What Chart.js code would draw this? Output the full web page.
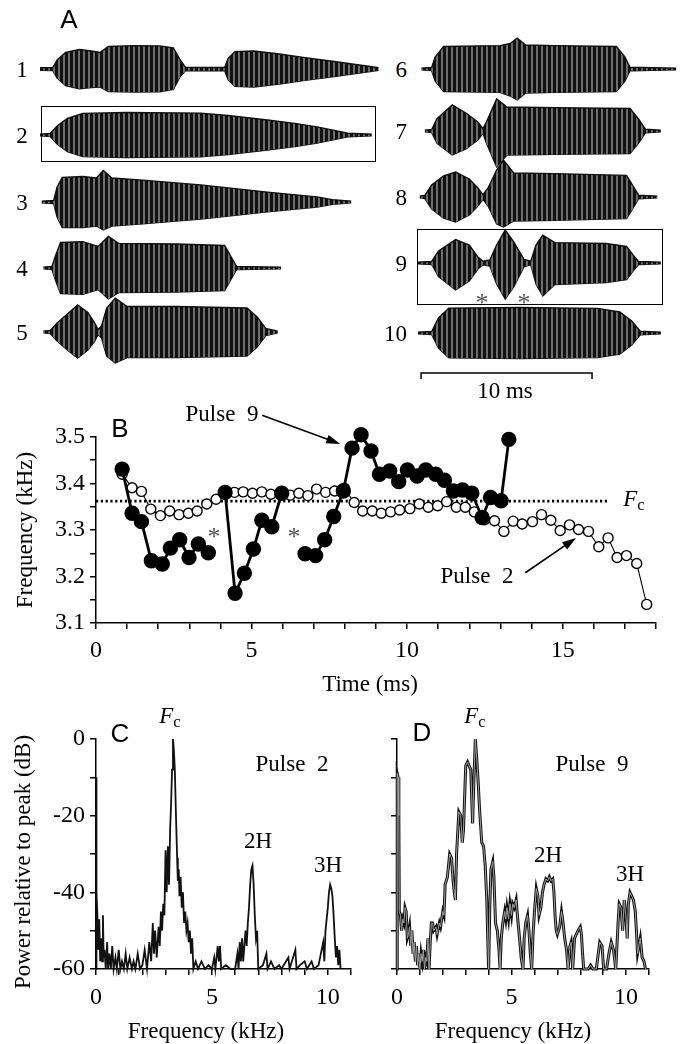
<!DOCTYPE html>
<html>
<head>
<meta charset="utf-8">
<script src="https://cdn.jsdelivr.net/npm/chart.js@4.4.0/dist/chart.umd.min.js"></script>
<style>
  body { margin: 0; background: #fff; }
  #fig { position: relative; width: 684px; height: 1044px; overflow: hidden; font-family: 'Liberation Serif', serif; color: #000; }
  canvas { position: absolute; }
  .t { position: absolute; transform: translate(-50%, -50%); white-space: nowrap; font-size: 23px; line-height: 1; }
  .r { transform: translate(-100%, -50%); }
  .p { font-family: 'Liberation Sans', Arial, sans-serif; font-size: 26px; }
  .s { font-size: 26px; color: #555; }
  .v { transform: translate(-50%, -50%) rotate(-90deg); }
  .t sub { font-size: 0.72em; vertical-align: -0.28em; line-height: 0; }
  .box { position: absolute; border: 1.5px solid #000; box-sizing: border-box; }
</style>
</head>
<body>
<div id="fig"></div>
<script>
// ---- A: pulse envelopes, [time (ms), upper, lower] ----
const pulse1 = [[0,0.04,0.04],[0.75,0.05,0.05],[1.0,0.3,0.3],[1.5,0.55,0.55],[2.3,0.65,0.66],[3.0,0.6,0.62],[3.5,0.55,0.6],[4.0,0.75,0.75],[5.5,0.78,0.77],[7.0,0.77,0.76],[7.8,0.7,0.68],[8.2,0.3,0.25],[8.5,0.06,0.06],[10.8,0.05,0.05],[11.0,0.35,0.35],[11.4,0.58,0.58],[12.5,0.6,0.6],[14.0,0.5,0.5],[15.5,0.38,0.38],[17.1,0.26,0.26],[19.1,0.1,0.1],[19.8,0.04,0.04]];
const pulse2 = [[0,0.03,0.03],[0.6,0.05,0.05],[1.0,0.3,0.3],[1.6,0.55,0.55],[2.5,0.72,0.72],[5.0,0.75,0.75],[9.4,0.73,0.73],[11.0,0.65,0.65],[13.3,0.5,0.5],[15.0,0.38,0.38],[16.2,0.27,0.27],[17.5,0.12,0.12],[18.0,0.06,0.06],[19.4,0.03,0.03]];
const pulse3 = [[0.1,0.03,0.03],[0.8,0.05,0.05],[1.0,0.5,0.5],[1.3,0.82,0.85],[2.5,0.85,0.85],[3.3,0.8,0.8],[3.7,1.05,0.93],[4.2,0.8,0.8],[6.0,0.73,0.73],[9.4,0.57,0.57],[13.3,0.33,0.33],[16.2,0.17,0.17],[17.1,0.08,0.08],[18.2,0.03,0.03]];
const pulse4 = [[0.2,0.03,0.03],[0.7,0.05,0.05],[0.9,0.4,0.4],[1.2,0.85,0.85],[2.5,0.88,0.88],[3.4,0.72,0.72],[4.0,1.05,1.03],[4.6,0.82,0.82],[8.0,0.8,0.8],[10.8,0.75,0.75],[11.2,0.35,0.35],[11.5,0.05,0.05],[14.1,0.03,0.03]];
const pulse5 = [[0.2,0.03,0.03],[0.6,0.05,0.05],[1.0,0.3,0.3],[1.6,0.6,0.6],[2.2,0.9,0.87],[2.8,0.65,0.6],[3.2,0.3,0.3],[3.4,0.08,0.08],[3.6,0.2,0.2],[3.9,0.8,0.8],[4.4,1.13,1.03],[5.1,0.85,0.85],[8.0,0.85,0.85],[12.1,0.8,0.8],[12.7,0.5,0.5],[13.2,0.12,0.12],[13.9,0.03,0.03]];
const pulse6 = [[0.2,0.03,0.03],[0.8,0.05,0.05],[1.0,0.4,0.4],[1.5,0.75,0.75],[4.8,0.78,0.78],[5.4,0.85,0.9],[5.8,1.03,1.03],[6.3,0.8,0.8],[8.0,0.78,0.78],[11.6,0.75,0.75],[12.1,0.4,0.4],[12.4,0.06,0.06],[15.1,0.03,0.03]];
const pulse7 = [[0.4,0.03,0.03],[0.8,0.05,0.05],[1.1,0.4,0.4],[2.0,0.87,0.8],[2.8,0.6,0.6],[3.5,0.3,0.3],[3.8,0.08,0.08],[4.0,0.3,0.4],[4.6,1.07,1.2],[5.2,0.8,0.8],[8.0,0.78,0.78],[12.4,0.75,0.75],[12.9,0.4,0.4],[13.3,0.06,0.06],[14.2,0.03,0.03]];
const pulse8 = [[0.1,0.03,0.03],[0.4,0.05,0.05],[0.8,0.4,0.4],[1.5,0.7,0.7],[2.2,0.83,0.83],[3.0,0.6,0.6],[3.5,0.3,0.3],[3.8,0.08,0.08],[4.1,0.3,0.3],[4.6,0.9,0.9],[5.0,1.23,1.0],[5.6,0.8,0.8],[8.0,0.78,0.78],[12.2,0.72,0.72],[12.6,0.35,0.35],[12.9,0.06,0.06],[14.0,0.03,0.03]];
const pulse9 = [[0,0.03,0.03],[0.8,0.05,0.05],[1.2,0.4,0.45],[2.2,0.78,0.9],[3.0,0.6,0.6],[3.5,0.2,0.2],[3.8,0.06,0.06],[4.2,0.1,0.1],[4.6,0.6,0.7],[5.1,1.1,1.2],[5.6,0.7,0.8],[6.2,0.12,0.12],[6.6,0.06,0.06],[6.9,0.6,0.7],[7.3,0.93,1.1],[8.0,0.68,0.72],[11.0,0.65,0.65],[12.2,0.55,0.55],[12.6,0.25,0.25],[12.9,0.05,0.05],[14.2,0.03,0.03]];
const pulse10 = [[0,0.03,0.03],[0.8,0.05,0.05],[1.2,0.5,0.5],[1.8,0.83,0.83],[6.0,0.85,0.85],[10.5,0.82,0.82],[11.8,0.7,0.7],[12.5,0.4,0.4],[13.0,0.06,0.06],[14.2,0.03,0.03]];
const scaleBarMs = [0.18, 10.18];

// ---- B: instantaneous frequency (ms, kHz); null = dropped cycle (asterisks) ----
const pulse9Time = [0.84,1.16,1.46,1.78,2.13,2.39,2.69,2.99,3.29,3.61,3.88,4.15,4.47,4.77,5.06,5.33,5.65,5.97,6.35,6.72,7.06,7.35,7.64,7.95,8.23,8.52,8.84,9.11,9.44,9.73,10.01,10.32,10.6,10.92,11.2,11.49,11.78,12.08,12.41,12.68,13.02,13.27];
const pulse9Freq = [3.431,3.336,3.318,3.234,3.227,3.261,3.279,3.241,3.270,3.251,null,3.381,3.164,3.207,3.259,3.321,3.307,3.379,null,3.249,3.245,3.279,3.329,3.384,3.476,3.505,3.47,3.42,3.427,3.404,3.429,3.416,3.429,3.42,3.407,3.384,3.386,3.379,3.327,3.37,3.363,3.495];
const pulse2Time = [0.84,1.16,1.46,1.76,2.07,2.37,2.67,2.97,3.25,3.56,3.86,4.16,4.45,4.73,5.03,5.33,5.62,5.92,6.24,6.52,6.81,7.09,7.38,7.67,7.98,8.3,8.57,8.88,9.17,9.47,9.76,10.09,10.39,10.68,10.98,11.27,11.58,11.87,12.16,12.49,12.81,13.11,13.41,13.7,14.03,14.32,14.62,14.92,15.22,15.51,15.83,16.16,16.46,16.75,17.05,17.38,17.7];
const pulse2Freq = [3.42,3.391,3.383,3.345,3.331,3.341,3.333,3.336,3.341,3.356,3.366,3.377,3.381,3.382,3.379,3.382,3.377,3.377,3.375,3.379,3.374,3.388,3.381,3.384,3.39,3.359,3.341,3.341,3.336,3.339,3.343,3.346,3.356,3.349,3.352,3.361,3.349,3.349,3.339,3.322,3.32,3.297,3.319,3.313,3.318,3.333,3.321,3.299,3.311,3.301,3.297,3.264,3.283,3.241,3.245,3.228,3.14];
const carrierFc = 3.362;
const fcLineMs = [0, 16.45];
const freqTicks = [3.1, 3.2, 3.3, 3.4, 3.5];
const timeTicks = [0, 5, 10, 15];

// ---- C, D: power spectra [kHz, dB re peak] ----
const spectrum2 = [[0,-60],[0.01,-10],[0.03,-40],[0.06,-46],[0.1,-55],[0.14,-47],[0.18,-58],[0.22,-52],[0.26,-58],[0.3,-46],[0.33,-57],[0.37,-55],[0.42,-60],[0.48,-53],[0.52,-60],[0.58,-56],[0.64,-60],[0.7,-54],[0.76,-60],[0.84,-57],[0.9,-60],[0.98,-55],[1.05,-60],[1.12,-58],[1.2,-60],[1.28,-56],[1.35,-60],[1.45,-57],[1.55,-60],[1.62,-58],[1.7,-60],[1.8,-56],[1.9,-60],[2.0,-59],[2.1,-55],[2.2,-60],[2.3,-53],[2.38,-58],[2.45,-48],[2.5,-56],[2.55,-50],[2.62,-57],[2.7,-49],[2.75,-54],[2.8,-45],[2.85,-50],[2.9,-43],[2.95,-46],[3.0,-29],[3.05,-40],[3.1,-28],[3.15,-38],[3.2,-23],[3.24,-17],[3.28,-8],[3.32,0],[3.36,-3],[3.4,-8],[3.45,-20],[3.5,-31],[3.53,-37],[3.57,-34],[3.6,-41],[3.65,-36],[3.7,-44],[3.75,-40],[3.8,-48],[3.85,-45],[3.9,-50],[3.95,-48],[4.0,-53],[4.05,-50],[4.1,-56],[4.15,-52],[4.2,-60],[4.3,-58],[4.4,-60],[4.55,-58],[4.7,-60],[4.85,-59],[5.0,-60],[5.1,-57],[5.15,-60],[5.25,-54],[5.3,-58],[5.35,-54],[5.4,-60],[5.6,-59],[5.8,-60],[6.0,-60],[6.1,-56],[6.15,-60],[6.2,-53],[6.25,-58],[6.3,-52],[6.35,-58],[6.45,-50],[6.5,-54],[6.55,-48],[6.6,-44],[6.65,-38],[6.7,-34],[6.75,-33],[6.8,-38],[6.85,-46],[6.9,-52],[6.95,-50],[7.0,-60],[7.2,-59],[7.35,-56],[7.4,-60],[7.55,-58],[7.7,-60],[7.9,-59],[8.0,-60],[8.2,-58],[8.3,-57],[8.35,-60],[8.5,-57],[8.6,-55],[8.65,-60],[8.8,-59],[9.0,-58],[9.1,-60],[9.3,-58],[9.4,-60],[9.6,-59],[9.7,-56],[9.8,-53],[9.85,-58],[9.9,-50],[9.95,-47],[10.0,-44],[10.05,-40],[10.1,-38],[10.15,-39],[10.2,-41],[10.25,-46],[10.3,-52],[10.35,-57],[10.4,-54],[10.45,-59],[10.5,-55],[10.55,-60]];
const spectrum9 = [[0,-60],[0.01,-9],[0.05,-10],[0.08,-20],[0.1,-45],[0.15,-46],[0.2,-50],[0.25,-47],[0.3,-48],[0.35,-44],[0.4,-45],[0.45,-52],[0.5,-51],[0.55,-49],[0.6,-54],[0.65,-50],[0.7,-56],[0.75,-53],[0.8,-58],[0.85,-54],[0.9,-59],[0.95,-56],[1.0,-60],[1.05,-56],[1.1,-58],[1.15,-55],[1.2,-60],[1.25,-57],[1.3,-58],[1.35,-52],[1.4,-60],[1.45,-53],[1.5,-48],[1.55,-48],[1.6,-50],[1.7,-49],[1.75,-51],[1.85,-48],[1.9,-49],[2.0,-45],[2.05,-46],[2.1,-38],[2.2,-36],[2.3,-30],[2.38,-31],[2.45,-37],[2.5,-40],[2.55,-42],[2.6,-30],[2.7,-19],[2.78,-20],[2.85,-27],[2.9,-24],[3.0,-7],[3.08,-6],[3.15,-7],[3.22,-8],[3.3,-22],[3.36,-10],[3.42,0],[3.48,-5],[3.55,-12],[3.6,-18],[3.7,-27],[3.78,-28],[3.85,-33],[3.92,-42],[3.96,-52],[4.0,-60],[4.05,-44],[4.1,-34],[4.18,-32],[4.23,-36],[4.3,-48],[4.38,-50],[4.45,-55],[4.5,-60],[4.55,-52],[4.62,-48],[4.7,-45],[4.75,-47],[4.8,-44],[4.87,-47],[4.93,-43],[5.0,-46],[5.05,-43],[5.12,-44],[5.2,-42],[5.27,-47],[5.35,-52],[5.42,-57],[5.5,-60],[5.55,-52],[5.62,-48],[5.7,-46],[5.76,-50],[5.82,-56],[5.88,-60],[5.93,-52],[6.0,-45],[6.08,-39],[6.15,-41],[6.2,-46],[6.28,-44],[6.35,-40],[6.42,-38],[6.5,-36.5],[6.58,-37],[6.65,-36],[6.72,-37],[6.8,-36.5],[6.85,-40],[6.9,-46],[6.95,-50],[7.0,-51],[7.1,-49],[7.18,-45],[7.25,-48],[7.32,-52],[7.4,-55],[7.47,-60],[7.55,-54],[7.6,-53],[7.67,-60],[7.75,-52],[7.82,-51],[7.9,-50],[8.0,-49],[8.05,-51],[8.1,-56],[8.15,-60],[8.35,-60],[8.45,-59],[8.55,-60],[8.7,-60],[8.85,-53],[8.95,-54],[9.02,-60],[9.15,-60],[9.25,-56],[9.35,-53],[9.45,-55],[9.55,-60],[9.65,-48],[9.7,-43],[9.78,-44],[9.85,-50],[9.92,-42],[10.0,-47],[10.05,-52],[10.1,-43],[10.17,-40],[10.25,-41],[10.32,-42],[10.4,-45],[10.45,-50],[10.5,-56],[10.56,-54],[10.62,-52],[10.7,-57],[10.78,-58],[10.85,-60]];

Chart.defaults.font.family = "'Liberation Serif', 'Times New Roman', serif";
Chart.defaults.font.size = 24;
Chart.defaults.color = '#000';

const fig = document.getElementById('fig');
const MS_PX = 17.1;  // waveform time scale (10 ms bar = 171 px)

function addCanvas(left, top, w, h) {
  const c = document.createElement('canvas');
  c.width = w; c.height = h;
  c.style.left = left + 'px';
  c.style.top = top + 'px';
  fig.appendChild(c);
  return c;
}

// dark oscillation stripes for the waveform fill
const tile = document.createElement('canvas');
tile.width = 5; tile.height = 2;
const tctx = tile.getContext('2d');
tctx.fillStyle = '#6e6e6e'; tctx.fillRect(0, 0, 5, 2);
tctx.fillStyle = '#111'; tctx.fillRect(0, 0, 3, 2);
const stripes = tctx.createPattern(tile, 'repeat');

const quiet = { legend: { display: false }, tooltip: { enabled: false } };

function drawPulse(env, left, centre, tMax) {
  const c = addCanvas(left, centre - 45, Math.round(tMax * MS_PX), 90);
  new Chart(c, {
    type: 'line',
    data: {
      datasets: [
        { data: env.map(p => ({ x: p[0], y: p[1] })), fill: '+1', backgroundColor: stripes,
          borderColor: '#111', borderWidth: 1.4, pointRadius: 0, clip: false },
        { data: env.map(p => ({ x: p[0], y: -p[2] })), fill: false,
          borderColor: '#111', borderWidth: 1.4, pointRadius: 0, clip: false }
      ]
    },
    options: {
      responsive: false, animation: false, events: [], plugins: quiet,
      layout: { padding: 0 },
      scales: {
        x: { type: 'linear', display: false, min: 0, max: tMax },
        y: { display: false, min: -1.5, max: 1.5 }
      }
    }
  });
}

const leftPulses = [pulse1, pulse2, pulse3, pulse4, pulse5];
const leftRows = [69, 135, 202, 268, 332];
const rightPulses = [pulse6, pulse7, pulse8, pulse9, pulse10];
const rightRows = [69, 131, 197, 263, 333];
leftPulses.forEach((p, i) => drawPulse(p, 40, leftRows[i], 20));
rightPulses.forEach((p, i) => drawPulse(p, 418, rightRows[i], 15.5));

// 10 ms scale bar
new Chart(addCanvas(418, 358, Math.round(15.5 * MS_PX), 30), {
  type: 'line',
  data: { datasets: [{
    data: [{ x: scaleBarMs[0], y: -0.4 }, { x: scaleBarMs[0], y: 0 }, { x: scaleBarMs[1], y: 0 }, { x: scaleBarMs[1], y: -0.4 }],
    borderColor: '#000', borderWidth: 1.5, pointRadius: 0, clip: false
  }] },
  options: {
    responsive: false, animation: false, events: [], plugins: quiet,
    scales: { x: { type: 'linear', display: false, min: 0, max: 15.5 }, y: { display: false, min: -1, max: 1 } }
  }
});

// ---- B ----
const arrowsB = [[5.34, 3.547, 7.85, 3.485], [13.8, 3.208, 15.43, 3.283]];
const arrowPlugin = {
  id: 'arrows',
  afterDatasetsDraw(chart) {
    const { ctx, scales: { x, y } } = chart;
    ctx.save();
    ctx.strokeStyle = '#000'; ctx.fillStyle = '#000'; ctx.lineWidth = 1.6;
    for (const [t0, f0, t1, f1] of arrowsB) {
      const x0 = x.getPixelForValue(t0), y0 = y.getPixelForValue(f0);
      const x1 = x.getPixelForValue(t1), y1 = y.getPixelForValue(f1);
      const a = Math.atan2(y1 - y0, x1 - x0), c = Math.cos(a), s = Math.sin(a);
      ctx.beginPath(); ctx.moveTo(x0, y0); ctx.lineTo(x1 - 10 * c, y1 - 10 * s); ctx.stroke();
      ctx.beginPath(); ctx.moveTo(x1, y1);
      ctx.lineTo(x1 - 14 * c + 4.5 * s, y1 - 14 * s - 4.5 * c);
      ctx.lineTo(x1 - 14 * c - 4.5 * s, y1 - 14 * s + 4.5 * c);
      ctx.closePath(); ctx.fill();
    }
    ctx.restore();
  }
};

const axisLine = { color: '#000', width: 1.5 };
const tickGrid = { drawOnChartArea: false, color: '#000', lineWidth: 1.5, tickLength: 6 };

new Chart(addCanvas(0, 380, 684, 320), {
  type: 'line',
  data: {
    datasets: [
      { label: 'Pulse 9', data: pulse9Time.map((t, i) => ({ x: t, y: pulse9Freq[i] })), order: 0,
        borderColor: '#000', borderWidth: 2.8, pointRadius: 6.3, pointBackgroundColor: '#000',
        pointBorderColor: '#000', spanGaps: false, clip: false },
      { label: 'Pulse 2', data: pulse2Time.map((t, i) => ({ x: t, y: pulse2Freq[i] })), order: 1,
        borderColor: '#000', borderWidth: 1.1, pointRadius: 5, pointBackgroundColor: '#fff',
        pointBorderColor: '#000', pointBorderWidth: 1.4, clip: false },
      { label: 'Fc', data: fcLineMs.map(t => ({ x: t, y: carrierFc })), order: 2,
        borderColor: '#000', borderWidth: 2.6, borderDash: [2.2, 2.6], pointRadius: 0 }
    ]
  },
  options: {
    responsive: false, animation: false, events: [], plugins: quiet,
    layout: { padding: { left: 0, top: 57, right: 28, bottom: 0 } },
    scales: {
      x: {
        type: 'linear', min: 0, max: 18,
        ticks: { stepSize: 1, autoSkip: false, maxRotation: 0, padding: 7,
                 callback: v => timeTicks.includes(v) ? v : '' },
        grid: tickGrid, border: axisLine,
        afterFit: s => { s.height = 77; }
      },
      y: {
        min: 3.1, max: 3.5,
        ticks: { stepSize: 0.05, autoSkip: false, padding: 5,
                 callback: v => { const r = Math.round(v * 10) / 10; return (Math.abs(v - r) < 1e-6 && freqTicks.includes(r)) ? r.toFixed(1) : ''; } },
        grid: tickGrid, border: axisLine,
        afterFit: s => { s.width = 96; }
      }
    }
  },
  plugins: [arrowPlugin]
});

// ---- C, D ----
function spectrumChart(left, width, padRight, axisWidth, data, withLabels, hollow) {
  const trace = data.map(([f, d]) => ({ x: f, y: d }));
  const datasets = [{ data: trace, borderColor: '#111', borderWidth: hollow ? 3 : 1.8, pointRadius: 0, clip: false }];
  if (hollow) datasets.unshift({ data: trace, borderColor: '#a0a0a0', borderWidth: 1, pointRadius: 0, clip: false });
  new Chart(addCanvas(left, 700, width, 344), {
    type: 'line',
    data: { datasets },
    options: {
      responsive: false, animation: false, events: [], plugins: quiet,
      layout: { padding: { left: 0, top: 39, right: padRight, bottom: 0 } },
      scales: {
        x: {
          type: 'linear', min: 0, max: 11,
          ticks: { stepSize: 1, autoSkip: false, maxRotation: 0, padding: 8,
                   callback: v => v % 5 === 0 ? v : '' },
          grid: tickGrid, border: axisLine,
          afterFit: s => { s.height = 75; }
        },
        y: {
          min: -60, max: 0,
          ticks: { stepSize: 10, autoSkip: false, padding: 5,
                   callback: v => (withLabels && v % 20 === 0) ? v : '' },
          grid: tickGrid, border: axisLine,
          afterFit: s => { s.width = axisWidth; }
        }
      }
    }
  });
}
spectrumChart(0, 360, 9, 96, spectrum2, true, false);
spectrumChart(340, 344, 35, 57, spectrum9, false, true);

// boxes around pulses 2 and 9
[[41, 106, 335, 56], [417, 229, 246, 76]].forEach(([l, t, w, h]) => {
  const b = document.createElement('div');
  b.className = 'box';
  Object.assign(b.style, { left: l + 'px', top: t + 'px', width: w + 'px', height: h + 'px' });
  fig.appendChild(b);
});

// text
const FC = '<i>F</i><sub>c</sub>';
const texts = [
  ['A', 69, 19, 'p'],
  ['1', 22, 69], ['2', 22, 135], ['3', 22, 202], ['4', 22, 268], ['5', 22, 332],
  ['6', 407, 69, 'r'], ['7', 407, 131, 'r'], ['8', 407, 197, 'r'], ['9', 407, 263, 'r'], ['10', 407, 333, 'r'],
  ['*', 482, 303, 's'], ['*', 524, 303, 's'],
  ['10 ms', 505, 390],
  ['B', 120, 428, 'p'],
  ['Pulse&nbsp; 9', 222, 413], ['Pulse&nbsp; 2', 477, 575],
  [FC, 634, 498],
  ['*', 214, 537, 's'], ['*', 294, 537, 's'],
  ['Frequency (kHz)', 24, 530, 'v'], ['Time (ms)', 370, 683],
  ['C', 120, 733, 'p'], ['D', 422, 732, 'p'],
  [FC, 170, 715], [FC, 475, 715],
  ['Pulse&nbsp; 2', 292, 763], ['Pulse&nbsp; 9', 592, 763],
  ['2H', 258, 840], ['3H', 328, 864], ['2H', 548, 854], ['3H', 630, 873],
  ['Power relative to peak (dB)', 22, 862, 'v'],
  ['Frequency (kHz)', 206, 1030], ['Frequency (kHz)', 513, 1030]
];
texts.forEach(([html, x, y, cls]) => {
  const d = document.createElement('div');
  d.className = 't' + (cls ? ' ' + cls : '');
  d.innerHTML = html;
  d.style.left = x + 'px';
  d.style.top = y + 'px';
  fig.appendChild(d);
});
</script>
</body>
</html>
